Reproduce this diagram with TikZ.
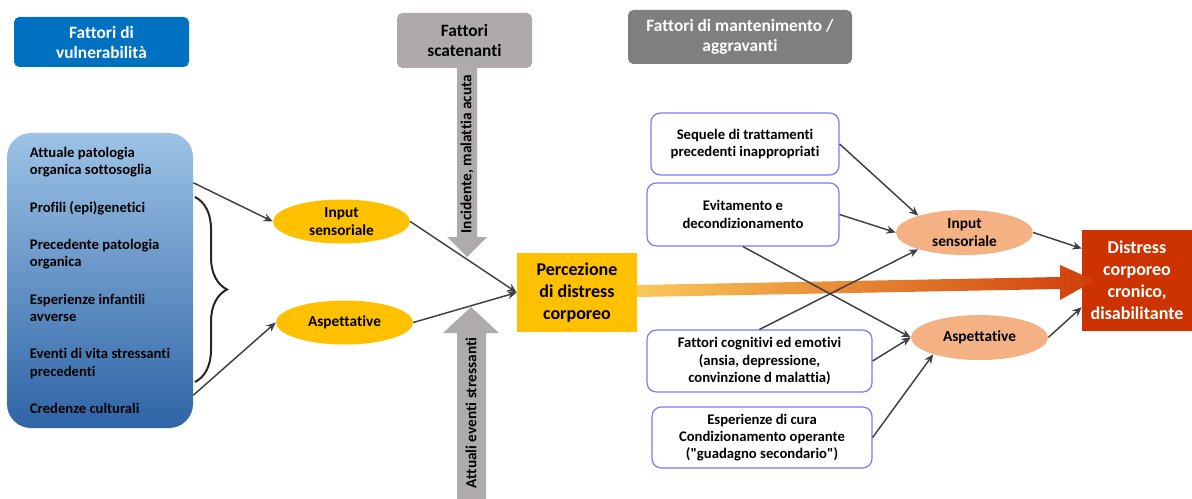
\documentclass[tikz,border=0pt]{standalone}
\usepackage{fontspec}
\setmainfont{Carlito}[Ligatures={TeXOff,NoCommon}]
\usetikzlibrary{shapes.geometric,arrows.meta,calc,decorations.pathreplacing}

\definecolor{vulnblue}{RGB}{0,112,192}
\definecolor{scatgray}{RGB}{174,170,170}
\definecolor{mantgray}{RGB}{127,127,127}
\definecolor{boxtop}{RGB}{157,195,230}
\definecolor{boxbot}{RGB}{46,100,165}
\definecolor{percyellow}{RGB}{255,192,0}
\definecolor{salmon}{RGB}{244,177,131}
\definecolor{distred}{RGB}{204,51,0}
\definecolor{frameblue}{RGB}{120,120,255}
\definecolor{linegray}{RGB}{64,64,64}
\definecolor{arrowgray}{RGB}{175,171,171}
\definecolor{bigleft}{RGB}{250,200,90}
\definecolor{bigright}{RGB}{208,62,10}

\begin{document}
\begin{tikzpicture}[x=0.75pt,y=-0.75pt,
  every node/.style={font=\bfseries\fontsize{11}{13}\selectfont, align=center, inner sep=0pt},
  header/.style={rounded corners=4pt, font=\bfseries\fontsize{13}{15}\selectfont},
  ellfont/.style={font=\bfseries\fontsize{11.5}{13.5}\selectfont},
  yellowell/.style={ellipse, ellfont, fill=percyellow, minimum width=102.75pt, minimum height=33pt},
  salmonell/.style={ellipse, ellfont, fill=salmon, minimum width=102.75pt, minimum height=33.75pt},
  factor/.style={draw=frameblue, line width=0.9pt, rounded corners=7pt, fill=white},
  conn/.style={draw=linegray, line width=1.1pt, -{Stealth[length=7pt,width=6pt]}},
  bigtext/.style={font=\bfseries\fontsize{13.5}{16.5}\selectfont},
  shafttext/.style={rotate=90, font=\bfseries\fontsize{11.5}{13.5}\selectfont}]
  \useasboundingbox (0,0) rectangle (1192,499);

  % headers
  \node[header, fill=vulnblue, text=white, minimum width=131.25pt, minimum height=37.5pt]
    (vuln) at (101.5,42) {Fattori di\\vulnerabilità};
  \node[header, fill=scatgray, minimum width=101.25pt, minimum height=41.25pt]
    (scaten) at (464.5,40.5) {Fattori\\scatenanti};
  \node[header, fill=mantgray, text=white, minimum width=168pt, minimum height=40.5pt]
    (manten) at (740,37) {Fattori di mantenimento /\\aggravanti};

  % vulnerability factors
  \node[rounded corners=18pt, top color=boxtop, bottom color=boxbot, align=left,
    minimum width=139.5pt, minimum height=221.25pt] (fattori) at (100,280.5)
    {Attuale patologia\\organica sottosoglia\\[15pt]
     Profili (epi)genetici\\[15pt]
     Precedente patologia\\organica\\[15pt]
     Esperienze infantili\\avverse\\[15pt]
     Eventi di vita stressanti\\precedenti\\[15pt]
     Credenze culturali};
  \draw[line width=1.5pt, draw=black!85, decorate,
    decoration={brace, amplitude=24pt}] (195,197) -- (195,382);

  \node[yellowell] (input) at (341.5,221.5) {Input\\sensoriale};
  \node[yellowell] (aspett) at (344.5,322.5) {Aspettative};
  \node[bigtext, fill=percyellow, minimum width=90pt, minimum height=59.25pt]
    (percez) at (577,292.5) {Percezione\\di distress\\corporeo};

  % triggering factors
  \fill[arrowgray] (457,68) -- (477,68) -- (477,237) -- (487,237) -- (467,257)
    -- (447,237) -- (457,237) -- cycle;
  \node[shafttext] (incid) at (467,154) {Incidente, malattia acuta};
  \fill[arrowgray] (457,499) -- (457,333) -- (443,333) -- (471,307) -- (499,333)
    -- (486,333) -- (486,499) -- cycle;
  \node[shafttext] (eventi) at (471,413) {Attuali eventi stressanti};

  % maintaining factors
  \node[factor, minimum width=141pt, minimum height=46.5pt] (sequele) at (745,144)
    {Sequele di trattamenti\\precedenti inappropriati};
  \node[factor, minimum width=144pt, minimum height=47.25pt] (evitam) at (743,214.5)
    {Evitamento e\\decondizionamento};
  \node[factor, minimum width=168.75pt, minimum height=46.5pt] (cognit) at (759.5,361)
    {Fattori cognitivi ed emotivi\\(ansia, depressione,\\convinzione d malattia)};
  \node[factor, minimum width=165pt, minimum height=45.75pt] (cura) at (762,437.5)
    {Esperienze di cura\\Condizionamento operante\\("guadagno secondario")};

  \node[salmonell] (inputb) at (964.5,232.5) {Input\\sensoriale};
  \node[salmonell] (aspettb) at (979.5,337.5) {Aspettative};
  \node[bigtext, fill=distred, text=white, minimum width=82.5pt, minimum height=75.75pt]
    (distress) at (1137,280.5) {Distress\\corporeo\\cronico,\\disabilitante};

  % main path
  \shade[left color=bigleft, right color=bigright]
    ($(percez.east)+(0,-7.5)$) -- (1060,277) -- (1060,265) -- ($(distress.west)+(13,0)$)
    -- (1060,300) -- (1060,289) -- ($(percez.east)+(0,4.5)$) -- cycle;

  % connectors
  \draw[conn] ([yshift=-37.5pt]fattori.north east) -- (input.west);
  \draw[conn] ([yshift=24.75pt]fattori.south east) -- (aspett.west);
  \draw[conn] (input.east) -- (percez.west);
  \draw[conn] (aspett.east) -- (percez.west);
  \draw[conn] (sequele.east) -- (inputb.160);
  \draw[conn] (evitam.east) -- (inputb.west);
  \draw[conn] (evitam.south) -- (aspettb.west);
  \draw[conn] (cognit.north) -- (inputb.200);
  \draw[conn] (cognit.east) -- (aspettb.west);
  \draw[conn] (cura.east) -- (aspettb.200);
  \draw[conn] (inputb.east) -- ([yshift=24pt]distress.west);
  \draw[conn] (aspettb.east) -- ([yshift=-20pt]distress.west);
\end{tikzpicture}
\end{document}
